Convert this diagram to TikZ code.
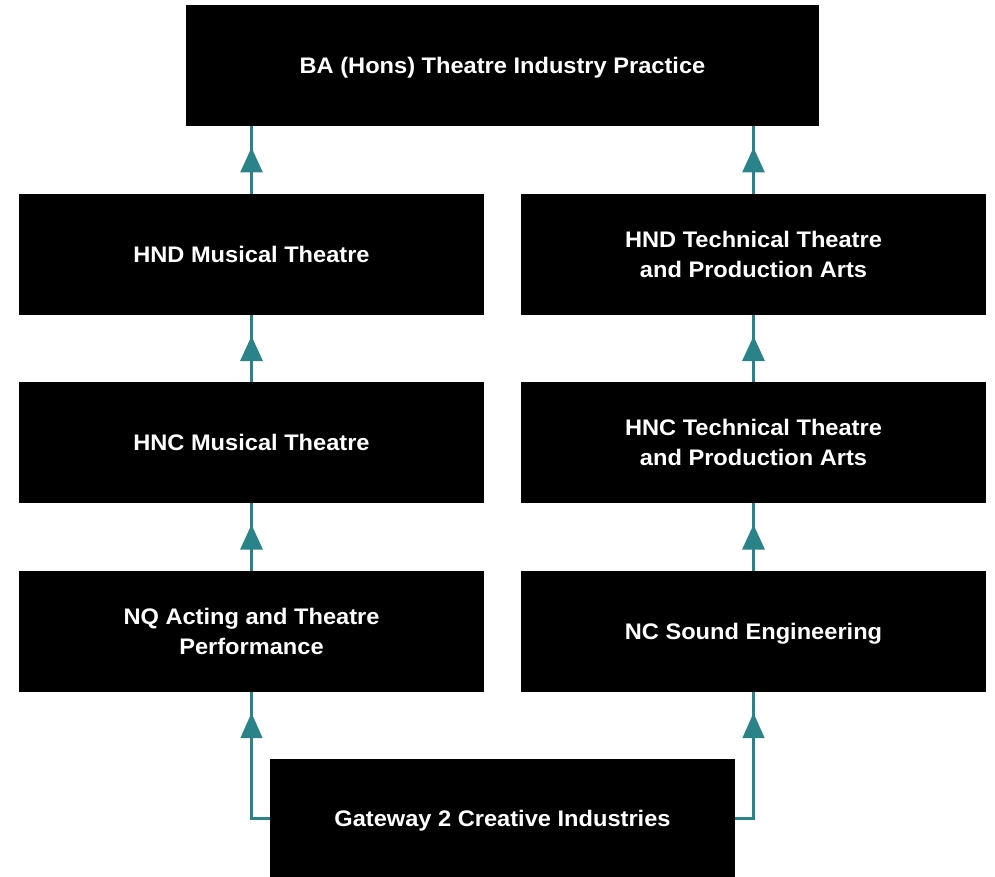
\documentclass[tikz,border=0pt]{standalone}
\usepackage{fontspec}
\setmainfont[FakeStretch=1.05]{Liberation Sans}
\usetikzlibrary{arrows.meta,decorations.markings}
\definecolor{teal}{HTML}{2A8389}
\tikzset{
  box/.style={fill=black, text=white, align=center, inner sep=0pt,
    minimum width=465pt, minimum height=121pt,
    font=\fontsize{22.5}{30}\selectfont\bfseries},
  oneline/.style={text height=16.1pt, text depth=0pt},
  conn/.style={draw=teal, line width=3pt},
  midarrow/.style={postaction={decorate}, decoration={markings,
    mark=at position 0.5 with {\arrow[teal, xshift=12.5pt]{Triangle[width=22pt,length=25pt]}}}}
}
\begin{document}
\begin{tikzpicture}[x=1pt,y=-1pt]
\useasboundingbox (0,0) rectangle (995,877);
\node[box, oneline, minimum width=633pt] (ba) at (502.5,65.5) {BA (Hons) Theatre Industry Practice};
\node[box, oneline] (hndm) at (251.5,254.5) {HND Musical Theatre};
\node[box] (hndt) at (753.5,254.5) {HND Technical Theatre\\and Production Arts};
\node[box, oneline] (hncm) at (251.5,442.5) {HNC Musical Theatre};
\node[box] (hnct) at (753.5,442.5) {HNC Technical Theatre\\and Production Arts};
\node[box] (nq) at (251.5,631.5) {NQ Acting and Theatre\\Performance};
\node[box, oneline] (nc) at (753.5,631.5) {NC Sound Engineering};
\node[box, oneline, minimum height=118pt] (gw) at (502.5,818) {Gateway 2 Creative Industries};
\draw[conn, midarrow] (hndm.north) -- (hndm.north |- ba.south);
\draw[conn, midarrow] (hndt.north) -- (hndt.north |- ba.south);
\draw[conn, midarrow] (hncm.north) -- (hndm.south);
\draw[conn, midarrow] (hnct.north) -- (hndt.south);
\draw[conn, midarrow] (nq.north) -- (hncm.south);
\draw[conn, midarrow] (nc.north) -- (hnct.south);
\draw[conn] (gw.west) -| (nq.south);
\draw[conn] (gw.east) -| (nc.south);
\path[midarrow] (nq.south |- gw.north) -- (nq.south);
\path[midarrow] (nc.south |- gw.north) -- (nc.south);
\end{tikzpicture}
\end{document}
